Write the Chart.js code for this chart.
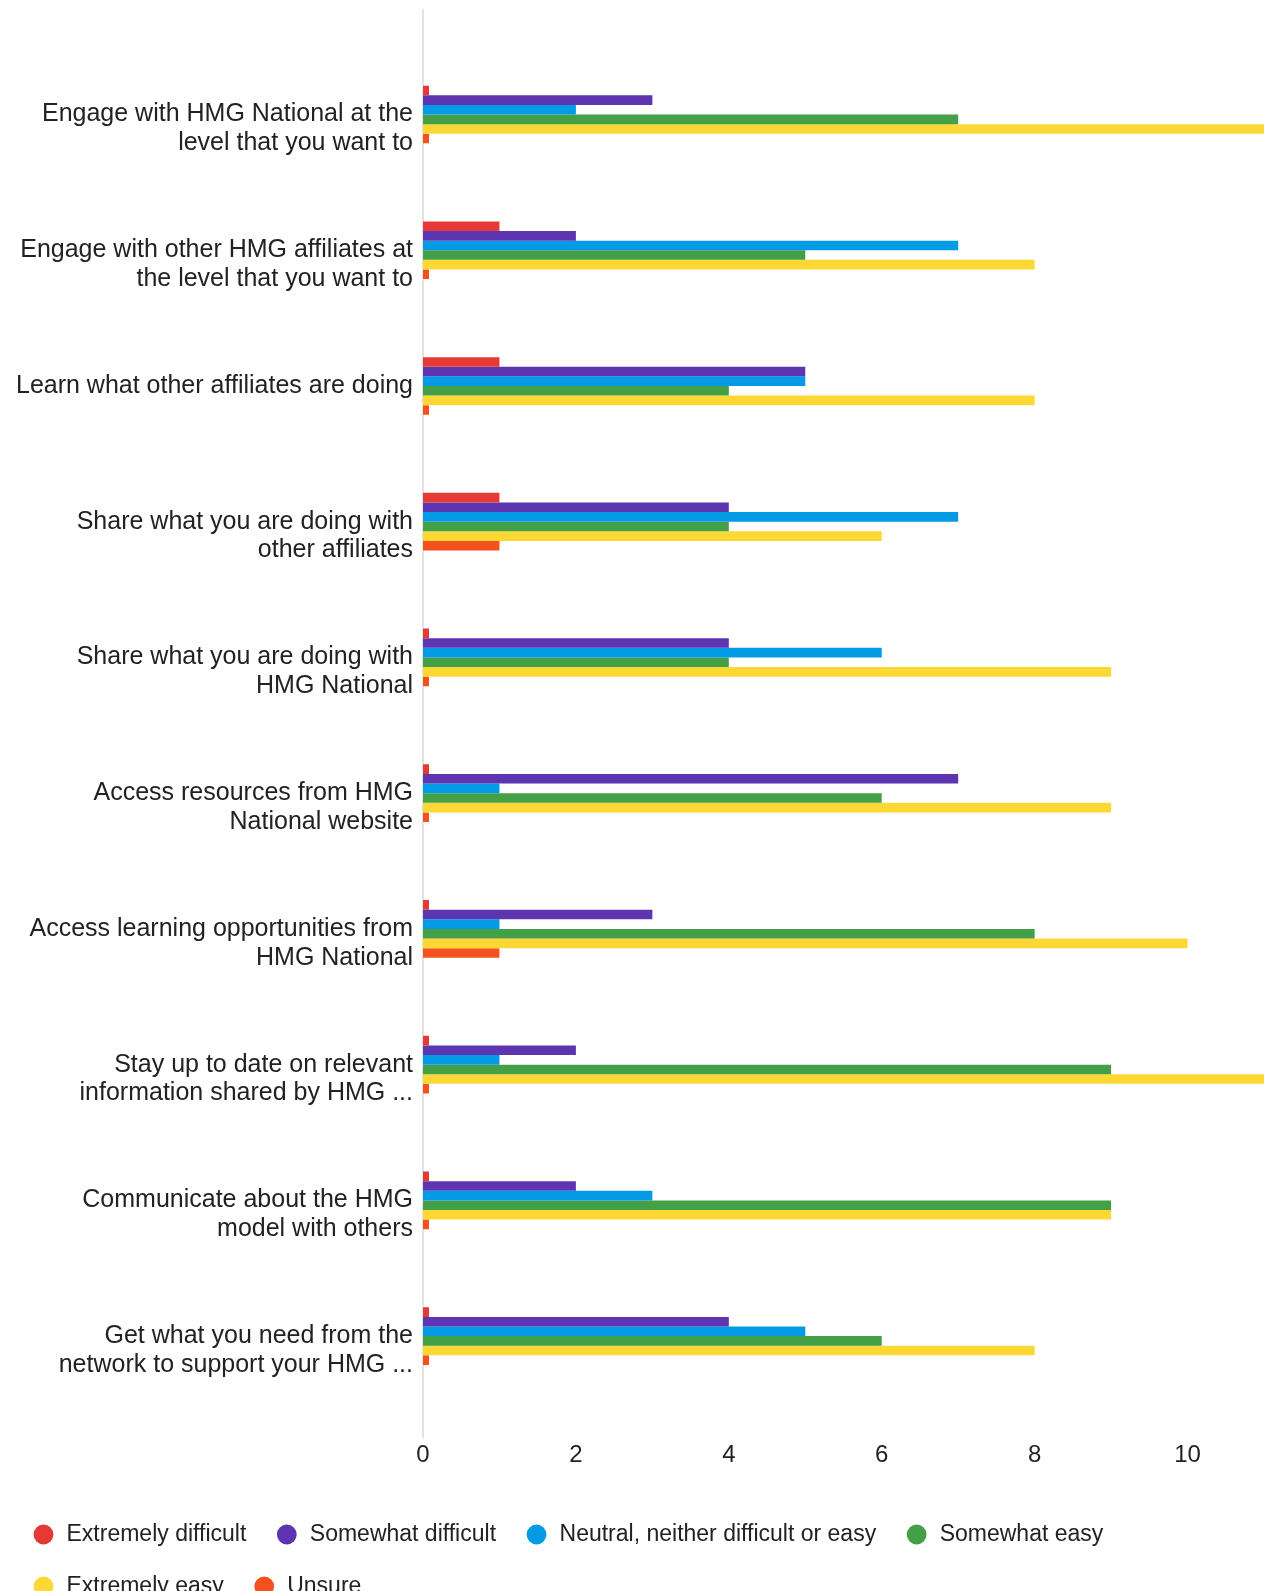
<!DOCTYPE html>
<html>
<head>
<meta charset="utf-8">
<script src="https://cdn.jsdelivr.net/npm/chart.js@4.4.1/dist/chart.umd.min.js"></script>
<style>
  html, body { margin: 0; padding: 0; background: #ffffff; overflow: hidden; }
  canvas { display: block; }
</style>
</head>
<body>
<canvas id="c" width="1274" height="1608"></canvas>
<script>
// ---- data ----
const categories = [
  ["Engage with HMG National at the", "level that you want to"],
  ["Engage with other HMG affiliates at", "the level that you want to"],
  ["Learn what other affiliates are doing"],
  ["Share what you are doing with", "other affiliates"],
  ["Share what you are doing with", "HMG National"],
  ["Access resources from HMG", "National website"],
  ["Access learning opportunities from", "HMG National"],
  ["Stay up to date on relevant", "information shared by HMG ..."],
  ["Communicate about the HMG", "model with others"],
  ["Get what you need from the", "network to support your HMG ..."]
];
const seriesNames = [
  "Extremely difficult",
  "Somewhat difficult",
  "Neutral, neither difficult or easy",
  "Somewhat easy",
  "Extremely easy",
  "Unsure"
];
const extremelyDifficult = [0, 1, 1, 1, 0, 0, 0, 0, 0, 0];
const somewhatDifficult  = [3, 2, 5, 4, 4, 7, 3, 2, 2, 4];
const neutral            = [2, 7, 5, 7, 6, 1, 1, 1, 3, 5];
const somewhatEasy       = [7, 5, 4, 4, 4, 6, 8, 9, 9, 6];
const extremelyEasy      = [11, 8, 8, 6, 9, 9, 10, 11, 9, 8];
const unsure             = [0, 0, 0, 1, 0, 0, 1, 0, 0, 0];
const xTickValues = [0, 2, 4, 6, 8, 10];
const xMax = 11;

// ---- styling ----
const colors = ["#e53935", "#5e35b1", "#039be5", "#43a047", "#fdd835", "#f4511e"];
const seriesValues = [extremelyDifficult, somewhatDifficult, neutral, somewhatEasy, extremelyEasy, unsure];
const FONT = '"Liberation Sans", Arial, sans-serif';

const datasets = seriesNames.map((name, s) => ({
  label: name,
  data: seriesValues[s].map((v, i) => ({ x: v, y: i })),
  backgroundColor: colors[s],
  borderWidth: 0,
  barPercentage: 1.0,
  categoryPercentage: 0.425,
  minBarLength: 6
}));

new Chart(document.getElementById('c'), {
  type: 'bar',
  data: { datasets },
  options: {
    indexAxis: 'y',
    responsive: false,
    animation: false,
    layout: { padding: { top: 10, right: 10, left: 3, bottom: 0 } },
    plugins: {
      tooltip: { enabled: false },
      legend: {
        position: 'bottom',
        align: 'start',
        labels: {
          usePointStyle: true,
          pointStyle: 'circle',
          boxWidth: 23,
          boxHeight: 14,
          padding: 29,
          color: '#222222',
          font: { family: FONT, size: 23 }
        }
      }
    },
    scales: {
      x: {
        type: 'linear',
        bounds: 'data',
        offset: false,
        min: 0,
        max: xMax,
        afterBuildTicks: s => { s.ticks = xTickValues.map(v => ({ value: v })); },
        afterFit: s => { s.height = 56.5; s.paddingLeft = 0; s.paddingRight = 0; },
        grid: { display: false, drawTicks: false, offset: false },
        border: { display: false },
        ticks: {
          padding: 3,
          color: '#222222',
          font: { family: FONT, size: 24 },
          autoSkip: false,
          maxRotation: 0
        }
      },
      y: {
        type: 'linear',
        bounds: 'data',
        offset: false,
        reverse: true,
        min: -0.77,
        max: 9.747,
        afterBuildTicks: s => { s.ticks = categories.map((_, i) => ({ value: i })); },
        afterFit: s => { s.width = 420; s.paddingTop = 0; s.paddingBottom = 0; },
        grid: { display: false, drawTicks: false, offset: false },
        border: { display: true, color: '#e3e3e3', width: 2 },
        ticks: {
          padding: 10,
          color: '#222222',
          autoSkip: false,
          font: { family: FONT, size: 25, lineHeight: 1.15 },
          callback: (v) => {
            const l = categories[v];
            if (!l) return '';
            return l.length > 1 ? [''].concat(l) : l;
          }
        }
      }
    }
  }
});
</script>
</body>
</html>
